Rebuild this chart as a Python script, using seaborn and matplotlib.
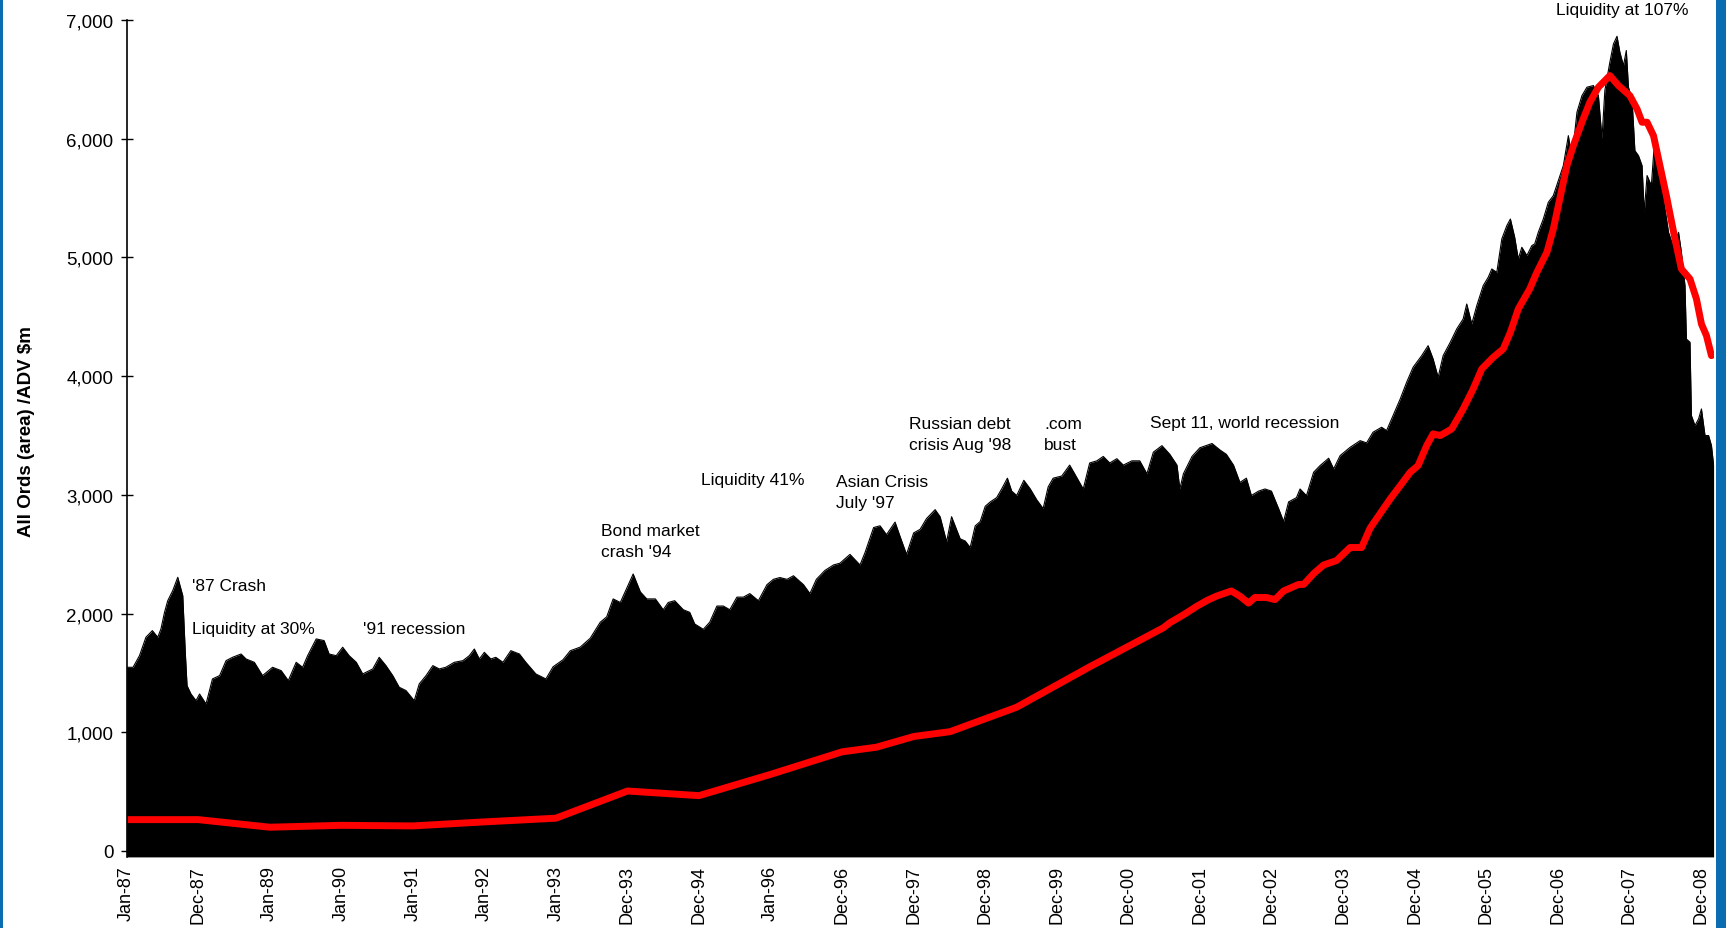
import matplotlib
matplotlib.use("Agg")
import matplotlib.pyplot as plt
from matplotlib.patches import Rectangle
import seaborn as sns
import pandas as pd

# ---------------- data ----------------
tick_labels = ["Jan-87", "Dec-87", "Jan-89", "Jan-90", "Jan-91", "Jan-92", "Jan-93",
               "Dec-93", "Dec-94", "Jan-96", "Dec-96", "Dec-97", "Dec-98", "Dec-99",
               "Dec-00", "Dec-01", "Dec-02", "Dec-03", "Dec-04", "Dec-05", "Dec-06",
               "Dec-07", "Dec-08"]

# All Ords (area): (position in tick steps from Jan-87, value)
area_1987_1992 = [(0.00,1547),(0.09,1547),(0.18,1645),(0.27,1800),(0.36,1856),(0.435,1800),(0.48,1870),
    (0.53,2010),(0.575,2108),(0.645,2193),(0.715,2305),(0.785,2150),(0.82,1676),(0.845,1392),(0.90,1322),
    (0.97,1266),(1.02,1322),(1.11,1238),(1.20,1449),(1.30,1477),(1.39,1603),(1.48,1631),(1.60,1659),
    (1.67,1617),(1.785,1589),(1.90,1477),(2.04,1547),(2.16,1519),(2.26,1435),(2.37,1589),(2.46,1547),
    (2.53,1645),(2.65,1786),(2.76,1772),(2.83,1659),(2.93,1645),(3.02,1716),(3.11,1645),(3.21,1589),
    (3.30,1491),(3.44,1533),(3.53,1631),(3.625,1561),(3.72,1477),(3.81,1379),(3.905,1351),(4.02,1266),
    (4.09,1407),(4.185,1477),(4.28,1561),(4.37,1533),(4.46,1547),(4.58,1589),(4.70,1603),(4.79,1645),
    (4.86,1701),(4.93,1617),(5.00,1673),(5.09,1617),(5.16,1631),(5.26,1589),(5.37,1687),(5.49,1659),
    (5.58,1589),(5.72,1491),(5.86,1449)]
area_1993_1998 = [(5.96,1551),(6.10,1611),(6.20,1686),(6.34,1717),(6.48,1792),(6.62,1927),(6.71,1972),
    (6.80,2123),(6.90,2093),(6.99,2213),(7.08,2333),(7.18,2182),(7.27,2123),(7.39,2123),(7.50,2032),
    (7.57,2093),(7.66,2108),(7.78,2032),(7.87,2010),(7.94,1912),(8.06,1867),(8.15,1927),(8.25,2063),
    (8.34,2063),(8.43,2032),(8.53,2138),(8.62,2138),(8.71,2168),(8.83,2108),(8.95,2243),(9.04,2288),
    (9.13,2303),(9.23,2288),(9.32,2318),(9.46,2243),(9.55,2168),(9.64,2288),(9.76,2363),(9.88,2409),
    (9.97,2424),(10.11,2498),(10.25,2409),(10.32,2513),(10.44,2724),(10.53,2739),(10.62,2664),
    (10.74,2770),(10.81,2649),(10.90,2498),(11.00,2679),(11.09,2709),(11.18,2800),(11.30,2875),
    (11.37,2815),(11.46,2604)]
area_1998_2003 = [(11.53,2815),(11.58,2738),(11.65,2629),(11.72,2611),(11.79,2556),(11.86,2738),
    (11.93,2775),(12.00,2903),(12.07,2940),(12.16,2976),(12.23,3049),(12.31,3140),(12.37,3031),
    (12.44,2994),(12.54,3122),(12.63,3049),(12.72,2958),(12.81,2884),(12.88,3067),(12.95,3140),
    (13.07,3158),(13.18,3250),(13.25,3177),(13.37,3049),(13.46,3268),(13.56,3286),(13.65,3323),
    (13.74,3268),(13.84,3304),(13.93,3250),(14.05,3286),(14.16,3286),(14.26,3177),(14.35,3359),
    (14.47,3414),(14.58,3341),(14.68,3250),(14.72,3049),(14.77,3177),(14.89,3323),(15.00,3396),
    (15.17,3432),(15.28,3378),(15.37,3341),(15.47,3250),(15.56,3104),(15.65,3140),(15.72,2994),
    (15.82,3031),(15.91,3049),(16.00,3031),(16.10,2884),(16.17,2775),(16.24,2940),(16.35,2976)]
area_2003_2008 = [(16.40,3049),(16.49,2993),(16.59,3190),(16.68,3246),(16.80,3308),(16.87,3218),
    (16.96,3330),(17.10,3400),(17.24,3456),(17.33,3437),(17.42,3527),(17.54,3569),(17.61,3541),
    (17.70,3667),(17.80,3807),(17.89,3948),(17.98,4074),(18.10,4172),(18.19,4256),(18.26,4144),
    (18.33,3990),(18.40,4172),(18.50,4285),(18.59,4397),(18.68,4481),(18.73,4607),(18.80,4439),
    (18.87,4593),(18.96,4762),(19.03,4832),(19.08,4902),(19.15,4874),(19.22,5155),(19.29,5267),
    (19.34,5323),(19.40,5169),(19.45,4986),(19.50,5085),(19.57,5015),(19.64,5099),(19.68,5113),
    (19.73,5211),(19.80,5323),(19.87,5464),(19.94,5520),(20.01,5646),(20.08,5773),(20.15,6025),
    (20.20,5829),(20.27,6222),(20.34,6362),(20.41,6433),(20.50,6447),(20.57,6362),(20.62,6000),
    (20.66,6405),(20.73,6643),(20.78,6797),(20.83,6862),(20.87,6728),(20.92,6615),(20.96,6742),
    (20.99,6433),(21.04,6334),(21.08,5899),(21.13,5857),(21.18,5773),(21.21,5380),(21.25,5689),
    (21.31,5605),(21.36,6025),(21.41,5717),(21.48,5492),(21.55,5211),(21.62,5085),(21.69,5211),
    (21.73,5043),(21.78,4762),(21.80,4312),(21.85,4285),(21.87,3667),(21.92,3583),(21.97,3639),
    (22.01,3723),(22.06,3499),(22.11,3499),(22.15,3415),(22.18,3250)]

# ADV $m (red line)
adv_pos = [0.0, 1.0, 2.0, 3.0, 4.0, 5.0, 6.0, 7.0, 8.0, 9.0, 10.0, 10.48, 11.0, 11.51, 12.44, 13.46,
           14.49, 14.58, 14.77, 14.96, 15.10, 15.23, 15.44, 15.56, 15.68, 15.77, 15.93, 16.05, 16.17,
           16.38, 16.45, 16.59, 16.73, 16.91, 17.10, 17.26, 17.38, 17.66, 17.80, 17.94, 18.05, 18.17,
           18.26, 18.36, 18.52, 18.68, 18.82, 18.94, 19.10, 19.24, 19.34, 19.45, 19.61, 19.71, 19.85,
           19.94, 20.03, 20.13, 20.22, 20.34, 20.45, 20.57, 20.73, 20.85, 21.01, 21.11, 21.18, 21.25,
           21.34, 21.43, 21.52, 21.64, 21.73, 21.85, 21.94, 22.01, 22.08, 22.15]
adv_val = [264, 264, 200, 216, 211, 245, 276, 505, 466, 645, 835, 874, 964, 1005, 1211, 1551,
           1880, 1922, 1989, 2062, 2110, 2146, 2190, 2146, 2088, 2135, 2135, 2117, 2190,
           2245, 2245, 2336, 2409, 2446, 2556, 2556, 2720, 2965, 3077, 3190, 3246, 3415,
           3513, 3499, 3555, 3723, 3892, 4060, 4158, 4228, 4369, 4565, 4734, 4874, 5043,
           5239, 5492, 5773, 5941, 6138, 6306, 6433, 6531, 6447, 6362, 6250, 6138, 6138,
           6025, 5773, 5520, 5155, 4902, 4818, 4650, 4439, 4341, 4172]

annotations = ["'87 Crash", "Liquidity at 30%", "'91 recession", "Bond market\ncrash '94",
               "Liquidity 41%", "Asian Crisis\nJuly '97", "Russian debt\ncrisis Aug '98",
               ".com\nbust", "Sept 11, world recession", "Liquidity at 107%"]

# ---------------- build frames ----------------
area_pts = area_1987_1992 + area_1993_1998 + area_1998_2003 + area_2003_2008
area_df = pd.DataFrame(area_pts, columns=["pos", "allords"])
adv_df = pd.DataFrame({"pos": adv_pos, "adv": adv_val})

# ---------------- style ----------------
sns.set_theme(style="white")
plt.rcParams["font.family"] = ["Liberation Sans", "DejaVu Sans"]

W, H = 1726, 929
fig = plt.figure(figsize=(W / 100, H / 100), dpi=100, facecolor="white")
ax = fig.add_axes([126.6 / W, 1 - 857.9 / H, (1713.6 - 126.6) / W, (857.9 - 20.9) / H])

ymin, ymax = -50, 7000
ax.fill_between(area_df["pos"], area_df["allords"], ymin, color="black", linewidth=0)
sns.lineplot(data=area_df, x="pos", y="allords", ax=ax, color="black", linewidth=0.8,
             estimator=None, sort=False)
sns.lineplot(data=adv_df, x="pos", y="adv", ax=ax, color="#FF0000", linewidth=5.0,
             estimator=None, sort=False, solid_joinstyle="round", solid_capstyle="round")

ax.set_xlim(0, 22.18)
ax.set_ylim(ymin, ymax)
ax.set_xticks(range(len(tick_labels)))
ax.set_xticklabels(tick_labels, rotation=90, fontsize=13, va="top", ha="center")
ax.set_yticks(range(0, 7001, 1000))
ax.set_yticklabels([f"{v:,}" for v in range(0, 7001, 1000)], fontsize=13.5)
ax.tick_params(axis="y", direction="inout", length=8, width=1, pad=5.5, colors="black", left=True)
ax.tick_params(axis="x", length=0, pad=6, colors="black")
ax.set_xlabel("")
ax.set_ylabel("All Ords (area) /ADV $m", fontsize=13.5, fontweight="bold", color="black")
ax.yaxis.set_label_coords((35 - 126.6) / (1713.6 - 126.6), (857.9 - 431.5) / (857.9 - 20.9))

for s in ["top", "right"]:
    ax.spines[s].set_visible(False)
ax.spines["left"].set_color("black")
ax.spines["left"].set_linewidth(1.2)
ax.spines["bottom"].set_visible(False)
ax.grid(False)
ax.set_facecolor("white")

ann_pos = [(0.91, 2234), (0.91, 1873), (3.31, 1873), (6.63, 2615), (8.03, 3125),
           (9.91, 3027), (10.94, 3514), (12.82, 3514), (14.31, 3607), (19.98, 7084)]
for txt, (x, y) in zip(annotations, ann_pos):
    ax.text(x, y, txt, fontsize=12.5, color="black", ha="left", va="center",
            linespacing=1.5, clip_on=False)

# blue page border strips
fig.patches.append(Rectangle((0, 0), 3 / W, 1, transform=fig.transFigure,
                             facecolor="#0B6DB0", edgecolor="none"))
fig.patches.append(Rectangle((1716 / W, 0), 10 / W, 1, transform=fig.transFigure,
                             facecolor="#0B6DB0", edgecolor="none"))

fig.savefig("out.png", dpi=100, facecolor="white")
